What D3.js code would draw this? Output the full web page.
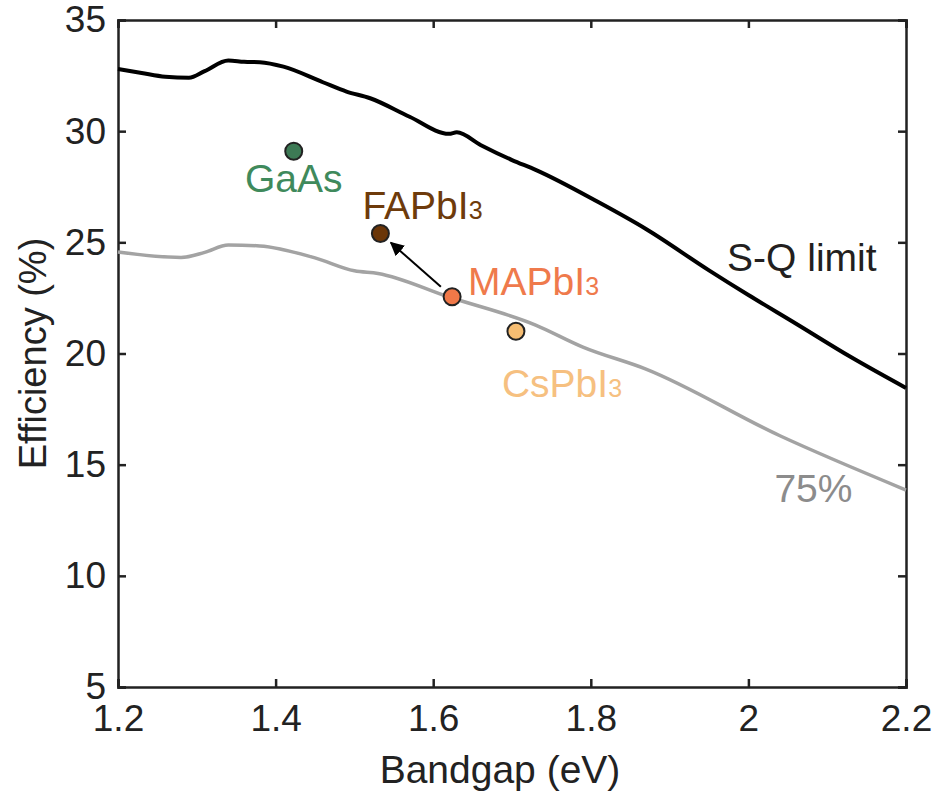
<!DOCTYPE html>
<html>
<head>
<meta charset="utf-8">
<script src="https://cdn.jsdelivr.net/npm/d3@7"></script>
<style>
  body { margin: 0; background: #fff; }
  svg { display: block; font-family: "Liberation Sans", Arial, sans-serif; }
</style>
</head>
<body>
<div id="chart"></div>
<script>
// S-Q limit curve
const sqBandgap = [1.20, 1.23, 1.26, 1.29, 1.31, 1.34, 1.36, 1.38, 1.41, 1.46, 1.49, 1.52, 1.57, 1.62, 1.63, 1.66, 1.70, 1.73, 1.81, 1.87, 1.95, 2.00, 2.06, 2.13, 2.20];
const sqEff     = [32.80, 32.62, 32.45, 32.40, 32.70, 33.18, 33.12, 33.10, 32.90, 32.20, 31.78, 31.48, 30.65, 29.88, 29.95, 29.38, 28.70, 28.26, 26.80, 25.60, 23.74, 22.63, 21.35, 19.84, 18.45];

// 75% of S-Q curve
const p75Bandgap = [1.20, 1.28, 1.31, 1.34, 1.38, 1.45, 1.50, 1.53, 1.62, 1.73, 1.79, 1.87, 2.04, 2.20];
const p75Eff     = [24.57, 24.32, 24.55, 24.88, 24.84, 24.30, 23.72, 23.60, 22.54, 21.28, 20.29, 19.30, 16.30, 13.86];

// materials
const materials = ["GaAs", "FAPbI3", "MAPbI3", "CsPbI3"];
const matBandgap = [1.423, 1.533, 1.624, 1.705];
const matEff = [29.1, 25.4, 22.55, 21.0];

const xTicks = [1.2, 1.4, 1.6, 1.8, 2, 2.2];
const yTicks = [5, 10, 15, 20, 25, 30, 35];

const W = 935, H = 796;
const M = { top: 20, right: 29, bottom: 109, left: 118 };

const x = d3.scaleLinear().domain([1.2, 2.2]).range([M.left, W - M.right]);
const y = d3.scaleLinear().domain([5, 35]).range([H - M.bottom, M.top]);

const svg = d3.select("#chart").append("svg")
    .attr("width", W).attr("height", H);

const axisColor = "#222";

// axes (ticks inward, box style)
const gx = svg.append("g")
    .attr("transform", `translate(0,${y(5)})`)
    .call(d3.axisBottom(x).tickValues(xTicks).tickSize(-8).tickPadding(18).tickFormat(d3.format("")));
const gxTop = svg.append("g")
    .attr("transform", `translate(0,${y(35)})`)
    .call(d3.axisTop(x).tickValues(xTicks).tickSize(-8).tickFormat(""));
const gy = svg.append("g")
    .attr("transform", `translate(${x(1.2)},0)`)
    .call(d3.axisLeft(y).tickValues(yTicks).tickSize(-8).tickPadding(12));
const gyRight = svg.append("g")
    .attr("transform", `translate(${x(2.2)},0)`)
    .call(d3.axisRight(y).tickValues(yTicks).tickSize(-8).tickFormat(""));

[gx, gxTop, gy, gyRight].forEach(g => {
  g.select(".domain").attr("stroke", axisColor).attr("stroke-width", 2.5);
  g.selectAll(".tick line").attr("stroke", axisColor).attr("stroke-width", 2.5);
  g.selectAll(".tick text").attr("fill", axisColor).style("font-size", "37px")
    .style("font-family", '"Liberation Sans", Arial, sans-serif');
});

// axis titles
svg.append("text")
    .attr("x", 500).attr("y", 783)
    .attr("text-anchor", "middle").attr("fill", axisColor)
    .style("font-size", "39px")
    .text("Bandgap (eV)");
svg.append("text")
    .attr("transform", `translate(46,${(y(5) + y(35)) / 2}) rotate(-90)`)
    .attr("text-anchor", "middle").attr("fill", axisColor)
    .style("font-size", "38px")
    .text("Efficiency (%)");

// curves
const line = d3.line().x(d => x(d[0])).y(d => y(d[1])).curve(d3.curveMonotoneX);

svg.append("path")
    .datum(p75Bandgap.map((b, i) => [b, p75Eff[i]]))
    .attr("d", line)
    .attr("fill", "none").attr("stroke", "#a3a3a3").attr("stroke-width", 3.5)
    .attr("stroke-linejoin", "round");

svg.append("path")
    .datum(sqBandgap.map((b, i) => [b, sqEff[i]]))
    .attr("d", line)
    .attr("fill", "none").attr("stroke", "#000").attr("stroke-width", 4)
    .attr("stroke-linejoin", "round");

// curve labels
svg.append("text")
    .attr("x", x(1.973)).attr("y", y(23.71))
    .attr("fill", "#231f20").style("font-size", "39px")
    .text("S-Q limit");
svg.append("text")
    .attr("x", x(2.033)).attr("y", y(13.32))
    .attr("fill", "#8c8c8c").style("font-size", "39px")
    .text("75%");

// arrow MAPbI3 -> FAPbI3
svg.append("defs").append("marker")
    .attr("id", "arrowhead")
    .attr("viewBox", "0 0 10 10")
    .attr("refX", 9).attr("refY", 5)
    .attr("markerWidth", 7).attr("markerHeight", 7)
    .attr("markerUnits", "strokeWidth")
    .attr("orient", "auto")
  .append("path")
    .attr("d", "M0,0 L10,5 L0,10 z")
    .attr("fill", "#000");

const ma = [x(matBandgap[2]), y(matEff[2])];
const fa = [x(matBandgap[1]), y(matEff[1])];
const dx = fa[0] - ma[0], dy = fa[1] - ma[1];
const len = Math.sqrt(dx * dx + dy * dy);
const ux = dx / len, uy = dy / len;
svg.append("line")
    .attr("x1", ma[0] + ux * 15).attr("y1", ma[1] + uy * 15)
    .attr("x2", fa[0] - ux * 14).attr("y2", fa[1] - uy * 14)
    .attr("stroke", "#000").attr("stroke-width", 2)
    .attr("marker-end", "url(#arrowhead)");

// markers
const markerFill = ["#3d7a55", "#6b3608", "#f07848", "#f6bd72"];
const labelFill  = ["#3f8a5c", "#6e3b0b", "#ef7a4c", "#f6c080"];
const labelDx = [0, -18, 16, -14];
const labelDy = [41, -14, -2, 66];
const labelAnchor = ["middle", "start", "start", "start"];

svg.selectAll("circle.mat")
  .data(materials)
  .join("circle")
    .attr("class", "mat")
    .attr("cx", (d, i) => x(matBandgap[i]))
    .attr("cy", (d, i) => y(matEff[i]))
    .attr("r", 8.5)
    .attr("fill", (d, i) => markerFill[i])
    .attr("stroke", "#222").attr("stroke-width", 2);

const labels = svg.selectAll("text.mat")
  .data(materials)
  .join("text")
    .attr("class", "mat")
    .attr("x", (d, i) => x(matBandgap[i]) + labelDx[i])
    .attr("y", (d, i) => y(matEff[i]) + labelDy[i])
    .attr("text-anchor", (d, i) => labelAnchor[i])
    .attr("fill", (d, i) => labelFill[i])
    .style("font-size", "39px");

labels.each(function(d) {
  const t = d3.select(this);
  if (d.endsWith("3")) {
    t.append("tspan").text(d.slice(0, -1));
    t.append("tspan").style("font-size", "25px").text("3");
  } else {
    t.text(d);
  }
});
</script>
</body>
</html>
